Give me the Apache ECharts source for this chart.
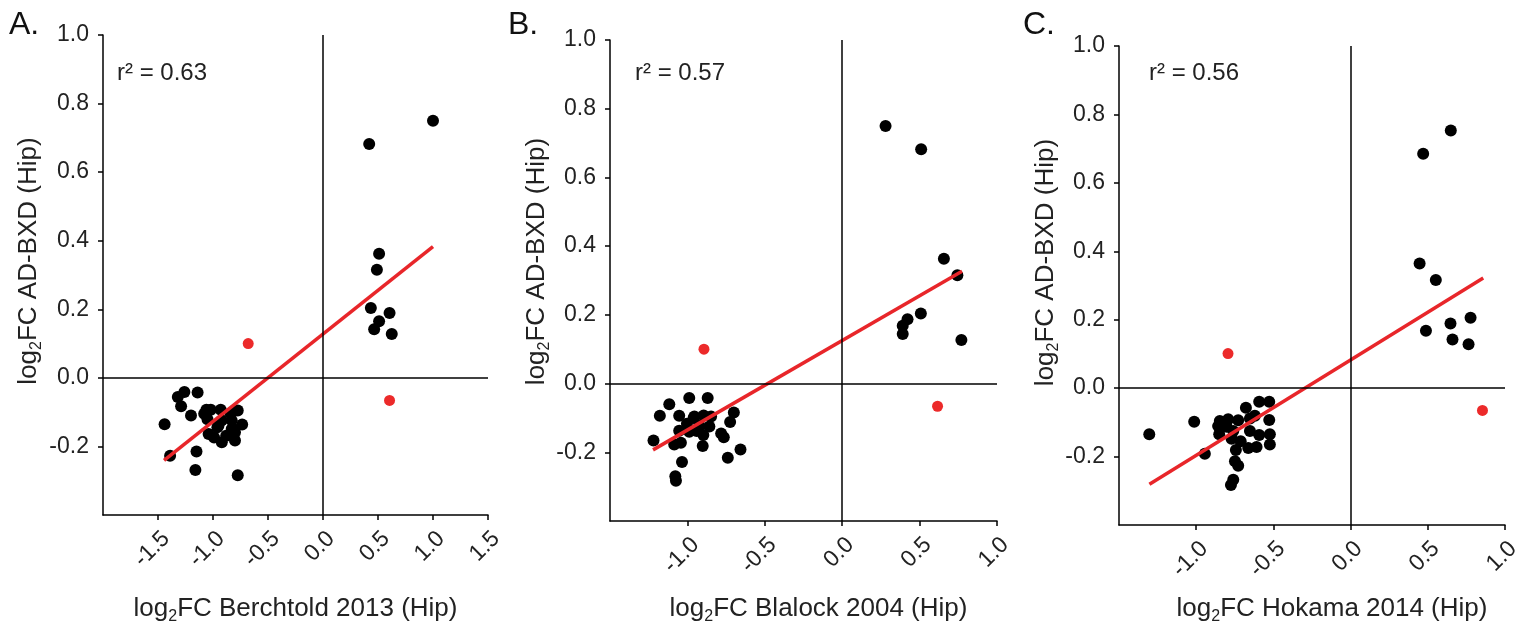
<!DOCTYPE html>
<html>
<head>
<meta charset="utf-8">
<script src="https://cdn.jsdelivr.net/npm/echarts@6/dist/echarts.min.js"></script>
<style>
html, body { margin: 0; background: #fff; }
#main { width: 1525px; height: 626px; }
</style>
</head>
<body>
<div id="main"></div>
<script>
var FONT = '"Liberation Sans", Arial, Helvetica, sans-serif';

// A. Berchtold 2013
var aBlack = [
  [1.00, 0.750], [0.42, 0.682], [0.51, 0.362], [0.49, 0.315], [0.435, 0.204],
  [0.605, 0.189], [0.51, 0.165], [0.465, 0.142], [0.625, 0.128],
  [-1.26, -0.041], [-1.32, -0.056], [-1.14, -0.043], [-1.29, -0.083], [-1.44, -0.135],
  [-1.20, -0.110], [-1.06, -0.093], [-1.08, -0.105], [-1.05, -0.121], [-0.93, -0.093],
  [-0.775, -0.095], [-0.92, -0.124], [-0.83, -0.124], [-0.735, -0.136], [-0.95, -0.139],
  [-0.83, -0.149], [-0.80, -0.159], [-1.04, -0.164], [-0.99, -0.174], [-0.88, -0.169],
  [-0.92, -0.188], [-0.80, -0.183], [-1.15, -0.215], [-1.39, -0.227], [-1.16, -0.269],
  [-0.775, -0.284], [-1.02, -0.093], [-0.81, -0.150], [-0.84, -0.103], [-0.96, -0.144]
];
var aRed = [[-0.68, 0.100], [0.605, -0.066]];
var aFit = [[-1.445, -0.241], [1.00, 0.383]];

// B. Blalock 2004
var bBlack = [
  [0.28, 0.750], [0.51, 0.682], [0.657, 0.363], [0.744, 0.315], [0.508, 0.204],
  [0.422, 0.187], [0.391, 0.168], [0.391, 0.144], [0.77, 0.127],
  [-0.988, -0.042], [-0.869, -0.042], [-1.117, -0.060], [-1.178, -0.094], [-1.053, -0.094],
  [-0.955, -0.096], [-0.895, -0.093], [-0.847, -0.096], [-0.700, -0.084], [-0.724, -0.112],
  [-1.003, -0.117], [-1.053, -0.137], [-0.923, -0.123], [-0.858, -0.125], [-0.988, -0.140],
  [-0.940, -0.138], [-0.897, -0.150], [-0.782, -0.145], [-0.765, -0.156], [-1.219, -0.166],
  [-1.085, -0.177], [-1.042, -0.172], [-0.901, -0.182], [-0.657, -0.192], [-0.739, -0.216],
  [-1.035, -0.228], [-1.078, -0.270], [-1.074, -0.283], [-0.96, -0.100]
];
var bRed = [[-0.893, 0.100], [0.616, -0.066]];
var bFit = [[-1.222, -0.193], [0.774, 0.327]];

// C. Hokama 2014
var cBlack = [
  [0.649, 0.753], [0.47, 0.685], [0.447, 0.364], [0.552, 0.316], [0.777, 0.206],
  [0.647, 0.189], [0.488, 0.168], [0.66, 0.142], [0.764, 0.128],
  [-1.304, -0.135], [-1.013, -0.098], [-0.944, -0.192], [-0.678, -0.057], [-0.592, -0.040],
  [-0.527, -0.040], [-0.620, -0.081], [-0.652, -0.089], [-0.527, -0.093], [-0.847, -0.096],
  [-0.793, -0.091], [-0.728, -0.094], [-0.858, -0.111], [-0.803, -0.113], [-0.851, -0.135],
  [-0.760, -0.125], [-0.652, -0.125], [-0.592, -0.137], [-0.523, -0.135], [-0.771, -0.148],
  [-0.712, -0.155], [-0.663, -0.175], [-0.609, -0.172], [-0.523, -0.165], [-0.743, -0.181],
  [-0.749, -0.214], [-0.728, -0.227], [-0.760, -0.268], [-0.775, -0.283]
];
var cRed = [[-0.794, 0.101], [0.854, -0.065]];
var cFit = [[-1.303, -0.281], [0.859, 0.322]];

var blackSets = [aBlack, bBlack, cBlack];
var redSets = [aRed, bRed, cRed];
var fitSets = [aFit, bFit, cFit];

var panelLetters = ['A.', 'B.', 'C.'];
var r2Labels = ['r\u00b2 = 0.63', 'r\u00b2 = 0.57', 'r\u00b2 = 0.56'];
var xNames = ['Berchtold 2013 (Hip)', 'Blalock 2004 (Hip)', 'Hokama 2014 (Hip)'];
var yName = 'AD-BXD (Hip)';
var xMins = [-2, -1.5, -1.5];
var xMaxs = [1.5, 1.0, 1.0];

var grids = [
  { left: 103, top: 35, width: 385, height: 480, outerBoundsMode: 'none' },
  { left: 610, top: 40, width: 387, height: 481, outerBoundsMode: 'none' },
  { left: 1119, top: 46, width: 386, height: 479, outerBoundsMode: 'none' }
];
var letterPos = [[9, 25], [508, 25], [1023, 25]];
var r2Pos = [[117, 73], [635, 73], [1149, 73]];
var xNamePad = [0, 30, 40];
var xNameGap = [78, 72, 68];
var yNamePad = [28, 38, 46];
var yNameGap = [58, 52, 54];

// subscript "2": pushed down by top padding inside the rich token
var rich = {
  t: { fontSize: 26, fontFamily: FONT, color: '#222' },
  s: { fontSize: 16, fontFamily: FONT, color: '#222', padding: [16, 0, 0, 0] }
};

function fmt(v) { return v.toFixed(1); }

var chart = echarts.init(document.getElementById('main'), null, { renderer: 'canvas' });

var xAxes = [], yAxes = [], series = [], graphics = [];
for (var i = 0; i < 3; i++) {
  xAxes.push({
    gridIndex: i, type: 'value', min: xMins[i], max: xMaxs[i], interval: 0.5,
    axisLine: { onZero: false, lineStyle: { color: '#000', width: 1.5 } },
    axisTick: { length: 5, lineStyle: { color: '#000', width: 1.5 } },
    axisLabel: { rotate: 45, fontSize: 23, fontFamily: FONT, color: '#222', margin: 12,
      verticalAlign: 'top', showMinLabel: false, formatter: fmt },
    splitLine: { show: false },
    name: '{t|log}{s|2}{t|FC ' + xNames[i] + '}',
    nameLocation: 'middle', nameGap: xNameGap[i],
    nameTextStyle: { rich: rich, padding: [0, 0, 0, xNamePad[i]] }
  });
  yAxes.push({
    gridIndex: i, type: 'value', min: -0.4, max: 1.0, interval: 0.2,
    axisLine: { onZero: false, lineStyle: { color: '#000', width: 1.5 } },
    axisTick: { length: 5, lineStyle: { color: '#000', width: 1.5 } },
    axisLabel: { fontSize: 23, fontFamily: FONT, color: '#222', margin: 14,
      showMinLabel: false, formatter: fmt },
    splitLine: { show: false },
    name: '{t|log}{s|2}{t|FC ' + yName + '}',
    nameLocation: 'middle', nameGap: yNameGap[i],
    nameTextStyle: { rich: rich, padding: [0, 0, 0, yNamePad[i]] }
  });
  series.push({
    type: 'scatter', xAxisIndex: i, yAxisIndex: i, data: blackSets[i],
    symbolSize: 12, itemStyle: { color: '#000', opacity: 1 }, z: 3,
    markLine: {
      silent: true, symbol: 'none', label: { show: false },
      lineStyle: { color: '#000', width: 1.5, type: 'solid' },
      data: [{ xAxis: 0 }, { yAxis: 0 }]
    }
  });
  series.push({
    type: 'scatter', xAxisIndex: i, yAxisIndex: i, data: redSets[i],
    symbolSize: 11, itemStyle: { color: '#ec2a2a', opacity: 1 }, z: 3
  });
  series.push({
    type: 'line', xAxisIndex: i, yAxisIndex: i, data: fitSets[i],
    symbol: 'none', lineStyle: { color: '#e8262a', width: 3.5 }, z: 4
  });
  graphics.push({
    type: 'text', x: letterPos[i][0], y: letterPos[i][1],
    style: { text: panelLetters[i], fontSize: 32, fontFamily: FONT, fill: '#111', verticalAlign: 'middle' }
  });
  graphics.push({
    type: 'text', x: r2Pos[i][0], y: r2Pos[i][1],
    style: { text: r2Labels[i], fontSize: 24, fontFamily: FONT, fill: '#222', verticalAlign: 'middle' }
  });
}

chart.setOption({
  animation: false,
  backgroundColor: '#fff',
  grid: grids,
  xAxis: xAxes,
  yAxis: yAxes,
  series: series,
  graphic: graphics
});
</script>
</body>
</html>
